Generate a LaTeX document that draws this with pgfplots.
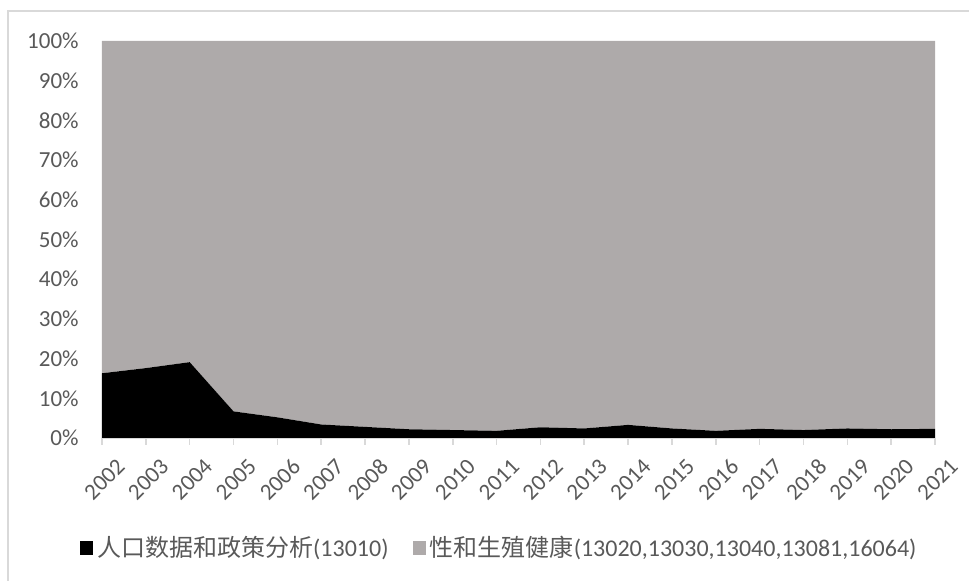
\documentclass[border=0pt]{standalone}
\usepackage{pgfplots}
\pgfplotsset{compat=1.18}
\usepackage{pgfplotstable}
\usepackage{fontspec}
\setmainfont{Carlito}
\newfontfamily\cjk{Noto Sans CJK SC}

\definecolor{txt}{HTML}{595959}
\definecolor{grayarea}{HTML}{AEAAAA}
\definecolor{frame}{HTML}{D9D9D9}

% share of each year (%), index 0 = 2002
\pgfplotstableread{
idx pop srh
0  16.3 83.7
1  17.6 82.4
2  19.1 80.9
3  6.7  93.3
4  5.2  94.8
5  3.4  96.6
6  2.8  97.2
7  2.2  97.8
8  2.0  98.0
9  1.8  98.2
10 2.7  97.3
11 2.4  97.6
12 3.3  96.7
13 2.4  97.6
14 1.8  98.2
15 2.3  97.7
16 2.0  98.0
17 2.4  97.6
18 2.2  97.8
19 2.3  97.7
}\shares

\begin{document}
\begin{tikzpicture}
\useasboundingbox (0,0) rectangle (484.5pt,290.5pt);
\draw[frame, line width=0.8pt] (4pt,0) -- (4pt,285pt) -- (490pt,285pt);
\begin{axis}[
  at={(51pt,71.5pt)}, anchor=south west,
  scale only axis, width=416.5pt, height=198.5pt,
  stack plots=y,
  xmin=0, xmax=19, ymin=0, ymax=100,
  enlarge x limits=false, enlarge y limits=false,
  axis lines*=left,
  x axis line style={frame, line width=0.8pt, -},
  y axis line style={draw=none},
  xtick={0,...,19},
  xticklabels={2002,2003,2004,2005,2006,2007,2008,2009,2010,2011,2012,2013,2014,2015,2016,2017,2018,2019,2020,2021},
  ytick={0,10,...,100},
  yticklabel={\pgfmathprintnumber{\tick}\%},
  /pgf/number format/assume math mode=true,
  tick align=outside,
  major tick length=3.5pt,
  x tick style={frame, line width=0.8pt},
  y tick style={draw=none},
  tick label style={font=\fontsize{11.5}{13}\selectfont, text=txt},
  xticklabel style={rotate=45, anchor=north east, inner sep=0pt, xshift=0.5pt, yshift=-9pt},
  yticklabel style={inner sep=2pt, xshift=-6pt},
  legend columns=2,
  legend style={at={(0.478,-0.277)}, anchor=center, draw=none, fill=none,
    font=\fontsize{12}{14}\selectfont, text=txt,
    /tikz/every even column/.append style={column sep=10pt}},
  legend image code/.code={\fill[#1] (0pt,-3.4pt) rectangle (6.6pt,3.4pt);},
  legend cell align=left,
]
\addplot[fill=black, draw=none] table[x=idx, y=pop] {\shares} \closedcycle;
\addlegendentry{{\cjk 人口数据和政策分析}(13010)}
\addplot[fill=grayarea, draw=none] table[x=idx, y=srh] {\shares} \closedcycle;
\addlegendentry{{\cjk 性和生殖健康}(13020,13030,13040,13081,16064)}
\end{axis}
\end{tikzpicture}
\end{document}
